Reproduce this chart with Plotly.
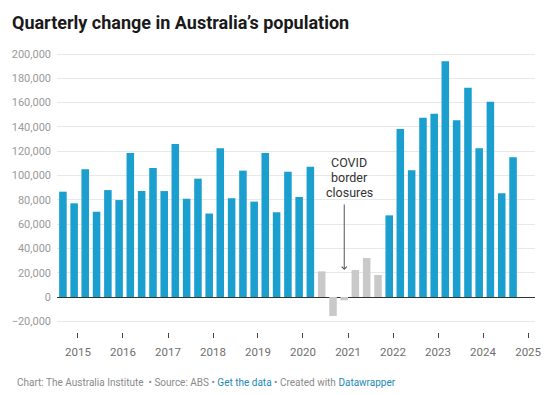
import plotly.graph_objects as go

# ---- data ----
quarters = [
    "2014-09-01", "2014-12-01",
    "2015-03-01", "2015-06-01", "2015-09-01", "2015-12-01",
    "2016-03-01", "2016-06-01", "2016-09-01", "2016-12-01",
    "2017-03-01", "2017-06-01", "2017-09-01", "2017-12-01",
    "2018-03-01", "2018-06-01", "2018-09-01", "2018-12-01",
    "2019-03-01", "2019-06-01", "2019-09-01", "2019-12-01",
    "2020-03-01", "2020-06-01", "2020-09-01", "2020-12-01",
    "2021-03-01", "2021-06-01", "2021-09-01", "2021-12-01",
    "2022-03-01", "2022-06-01", "2022-09-01", "2022-12-01",
    "2023-03-01", "2023-06-01", "2023-09-01", "2023-12-01",
    "2024-03-01", "2024-06-01", "2024-09-01",
]
population_change = [
    86700, 77100,
    105100, 70200, 88000, 79800,
    118500, 87200, 106200, 87200,
    125900, 80900, 97400, 68700,
    122500, 81200, 104000, 78500,
    118500, 69700, 103100, 82300,
    107300, 21100, -15600, -2700,
    22200, 32100, 18100, 67200,
    138300, 104300, 147600, 150900,
    194000, 145400, 172300, 122400,
    160800, 85300, 115000,
]
border_closed_quarters = [
    "2020-06-01", "2020-09-01", "2020-12-01",
    "2021-03-01", "2021-06-01", "2021-09-01",
]
year_ticks = ["2015", "2016", "2017", "2018", "2019", "2020",
              "2021", "2022", "2023", "2024", "2025"]
y_ticks = [-20000, 0, 20000, 40000, 60000, 80000, 100000,
           120000, 140000, 160000, 180000, 200000]
note_lines = ["COVID", "border", "closures"]
note_line_y = [110300, 98400, 86400]

BLUE = "#1a9fcf"
GREY = "#c9c9c9"
colors = [GREY if q in border_closed_quarters else BLUE for q in quarters]

fig = go.Figure()
fig.add_trace(go.Bar(
    x=quarters, y=population_change,
    marker=dict(color=colors, line=dict(width=0)),
    hovertemplate="%{x|%b %Y}: %{y:,}<extra></extra>",
))

W, H = 553, 395
ML, MR, MT, MB = 55, 13, 50, 63
plot_w = W - ML - MR
plot_h = H - MT - MB

fig.update_layout(
    width=W, height=H,
    margin=dict(l=ML, r=MR, t=MT, b=MB, pad=0),
    paper_bgcolor="white", plot_bgcolor="white",
    font=dict(family="Roboto", color="#333"),
    bargap=0.32,
    showlegend=False,
    title=dict(
        text="<b>Quarterly change in Australia’s population</b>",
        font=dict(family="Roboto", size=18, color="#1a1a1a"),
        xref="container", yref="container",
        x=12 / W, xanchor="left",
        y=1 - 23 / H, yanchor="middle",
        pad=dict(t=0, b=0, l=0, r=0),
    ),
    xaxis=dict(
        type="date",
        range=["2014-07-15", "2025-02-26"],
        tickvals=[y + "-01-01" for y in year_ticks],
        ticktext=year_ticks,
        ticks="outside", ticklen=5, tickwidth=1, tickcolor="#444",
        showgrid=False, showline=False, zeroline=False,
        tickfont=dict(family="Roboto", size=11.5, color="#6f6f6f"),
        ticklabelstandoff=4,
        fixedrange=True,
    ),
    yaxis=dict(
        range=[-28800, 203300],
        tickvals=y_ticks,
        tickformat=",",
        showgrid=True, gridcolor="#e8e8e8", gridwidth=1,
        zeroline=True, zerolinecolor="#333", zerolinewidth=1,
        showline=False, ticks="",
        tickfont=dict(family="Roboto", size=11, color="#9a9a9a"),
        ticklabelstandoff=5,
        fixedrange=True,
    ),
)

# annotation text, one line per annotation for tight line spacing
for line, yv in zip(note_lines, note_line_y):
    fig.add_annotation(
        x="2021-01-11", y=yv, xref="x", yref="y",
        text=line, showarrow=False, xanchor="center", yanchor="middle",
        font=dict(family="Roboto", size=12.5, color="#333"),
    )
# arrow
fig.add_annotation(
    x="2020-12-01", y=22200, xref="x", yref="y",
    ax="2020-12-01", ay=77400, axref="x", ayref="y",
    text="", showarrow=True,
    arrowhead=4, arrowsize=1, arrowwidth=1, arrowcolor="#555",
)

# footer
fig.add_annotation(
    xref="paper", yref="paper",
    x=(12 - ML) / plot_w, y=-(382 - (MT + plot_h)) / plot_h,
    xanchor="left", yanchor="middle",
    showarrow=False,
    text=("Chart: The Australia Institute  • Source: ABS • "
          "<span style='color:#1d89b6'>Get the data</span> • Created with "
          "<span style='color:#1d89b6'>Datawrapper</span>"),
    font=dict(family="Roboto", size=10, color="#8a8a8a"),
)

fig.write_html(
    "out.html",
    include_plotlyjs=True,
    config={"displayModeBar": False},
    post_script="document.body.style.margin='0px';document.body.style.overflow='hidden';",
)
